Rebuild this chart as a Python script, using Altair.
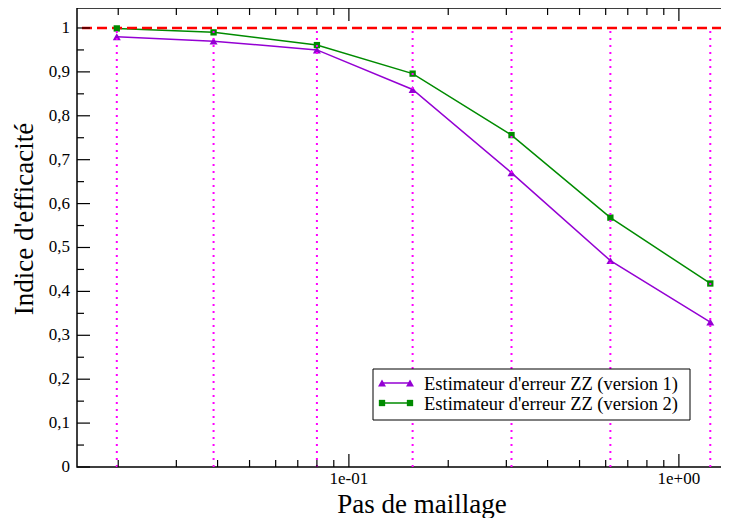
import altair as alt
import pandas as pd

# ---- data ----
pas = [0.0198, 0.0389, 0.080, 0.156, 0.311, 0.620, 1.245]
indice_v1 = [0.98, 0.97, 0.95, 0.86, 0.67, 0.47, 0.33]
indice_v2 = [0.999, 0.99, 0.961, 0.896, 0.756, 0.568, 0.418]
series_names = ["Estimateur d'erreur ZZ (version 1)", "Estimateur d'erreur ZZ (version 2)"]
reference = [1.0]
x_title = ["Pas de maillage"]
y_title = ["Indice d'efficacité"]

y_major = [0.0, 0.1, 0.2, 0.3, 0.4, 0.5, 0.6, 0.7, 0.8, 0.9, 1.0]
y_minor = [0.05, 0.15, 0.25, 0.35, 0.45, 0.55, 0.65, 0.75, 0.85, 0.95]
x_major = [0.1, 1.0]
x_major_labels = ["1e-01", "1e+00"]
x_minor = [0.02, 0.03, 0.04, 0.05, 0.06, 0.07, 0.08, 0.09,
           0.2, 0.3, 0.4, 0.5, 0.6, 0.7, 0.8, 0.9]

# ---- tables ----
df = pd.DataFrame({
    "pas": pas * 2,
    "indice": indice_v1 + indice_v2,
    "serie": [series_names[0]] * len(pas) + [series_names[1]] * len(pas),
})
df_pas = pd.DataFrame({"pas": pas})
df_ref = pd.DataFrame({"ref": reference})
df_ymaj = pd.DataFrame({"v": y_major})
df_ymin = pd.DataFrame({"v": y_minor})
df_xmaj = pd.DataFrame({"v": x_major, "lbl": x_major_labels})
df_xmin = pd.DataFrame({"v": x_minor})

W, H = 660, 459
FONT = "Liberation Serif"
PURPLE = "#9400D3"
GREEN = "#008B00"
colors = [PURPLE, GREEN]
shapes = ["triangle-up", "square"]
msizes = [64, 40]

xs = alt.Scale(type="log", domain=[0.015, 1.5], nice=False)
ys = alt.Scale(domain=[0, 1.0455], nice=False, zero=False)
cs = alt.Scale(domain=series_names, range=colors)

X = lambda f: alt.X(f, scale=xs, axis=None)
Y = lambda f: alt.Y(f, scale=ys, axis=None)

lines = alt.Chart(df).mark_line(strokeWidth=1.5).encode(
    x=X("pas:Q"), y=Y("indice:Q"),
    color=alt.Color("serie:N", scale=cs, legend=None),
    detail="serie:N",
)

point_layers = []
for name, shp, sz in zip(series_names, shapes, msizes):
    point_layers.append(
        alt.Chart(df).transform_filter(alt.datum.serie == name)
        .mark_point(shape=shp, filled=True, size=sz, opacity=1)
        .encode(x=X("pas:Q"), y=Y("indice:Q"),
                color=alt.Color("serie:N", scale=cs, legend=None))
    )

ref_line = alt.Chart(df_ref).mark_rule(
    color="#FF0000", strokeDash=[10, 5], strokeWidth=2.5
).encode(y=Y("ref:Q"))

verticals = alt.Chart(df_pas).mark_rule(
    color="#FF00FF", strokeDash=[2, 5], strokeWidth=2
).encode(
    x=X("pas:Q"),
    y=alt.YDatum(0, scale=ys, axis=None), y2=alt.Y2Datum(1),
)

def yticks(data, length):
    left = alt.Chart(data).mark_rule(color="black", strokeWidth=1.2).encode(
        y=Y("v:Q"), x=alt.value(0), x2=alt.value(length))
    right = alt.Chart(data).mark_rule(color="black", strokeWidth=1.2).encode(
        y=Y("v:Q"), x=alt.value(W), x2=alt.value(W - length))
    return [left, right]

def xticks(data, length):
    bottom = alt.Chart(data).mark_rule(color="black", strokeWidth=1.2).encode(
        x=X("v:Q"), y=alt.value(H), y2=alt.value(H - length))
    top = alt.Chart(data).mark_rule(color="black", strokeWidth=1.2).encode(
        x=X("v:Q"), y=alt.value(0), y2=alt.value(length))
    return [bottom, top]

tick_layers = yticks(df_ymaj, 13) + yticks(df_ymin, 7) + xticks(df_xmaj, 13) + xticks(df_xmin, 7)

# ---- tick labels and titles as text ----
y_labels = alt.Chart(df_ymaj).transform_calculate(
    lbl="datum.v == 0 ? '0' : (datum.v == 1 ? '1' : replace(format(datum.v, '.1f'), '.', ','))"
).mark_text(font=FONT, fontSize=17, color="black", align="right", baseline="middle").encode(
    y=Y("v:Q"), x=alt.value(-7), text="lbl:N",
)
x_labels = alt.Chart(df_xmaj).mark_text(
    font=FONT, fontSize=17, color="black", align="center", baseline="alphabetic"
).encode(x=X("v:Q"), y=alt.value(H + 17), text="lbl:N")

x_title_mark = alt.Chart(pd.DataFrame({"t": x_title})).mark_text(
    font=FONT, fontSize=27, color="black", align="center", baseline="alphabetic"
).encode(x=alt.value(345), y=alt.value(H + 46), text="t:N")

y_title_mark = alt.Chart(pd.DataFrame({"t": y_title})).mark_text(
    font=FONT, fontSize=27, color="black", align="center", baseline="alphabetic", angle=270
).encode(x=alt.value(-44), y=alt.value(211), text="t:N")

# ---- legend drawn with marks ----
LX0, LX1, LY0, LY1 = 296, 613, 361, 412
legend_box = alt.Chart(pd.DataFrame({"t": [0]})).mark_rect(
    fill="white", stroke="black", strokeWidth=1
).encode(x=alt.value(LX0), x2=alt.value(LX1), y=alt.value(LY0), y2=alt.value(LY1))

legend_layers = [legend_box]
for i, (name, col, shp, sz) in enumerate(zip(series_names, colors, shapes, msizes)):
    row_y = 375 + 20 * i
    d = pd.DataFrame({"serie": [name]})
    legend_layers.append(alt.Chart(d).mark_rule(color=col, strokeWidth=1.5).encode(
        x=alt.value(305), x2=alt.value(333), y=alt.value(row_y)))
    for px in (305, 333):
        legend_layers.append(alt.Chart(d).mark_point(
            shape=shp, filled=True, size=sz, opacity=1, color=col
        ).encode(x=alt.value(px), y=alt.value(row_y)))
    legend_layers.append(alt.Chart(d).mark_text(
        font=FONT, fontSize=18.5, color="black", align="left", baseline="middle"
    ).encode(x=alt.value(347), y=alt.value(row_y + 1), text="serie:N"))

chart = alt.layer(
    lines, ref_line, *point_layers, verticals, *tick_layers,
    y_labels, x_labels, x_title_mark, y_title_mark, *legend_layers
).properties(
    width=W, height=H,
    background="white",
    autosize=alt.AutoSizeParams(type="none"),
    padding={"left": 69, "top": 0, "right": -16, "bottom": 51},
).configure_view(
    stroke="black", strokeWidth=1.5
)

chart.save("out.html", embed_options={"renderer": "svg", "actions": False})
